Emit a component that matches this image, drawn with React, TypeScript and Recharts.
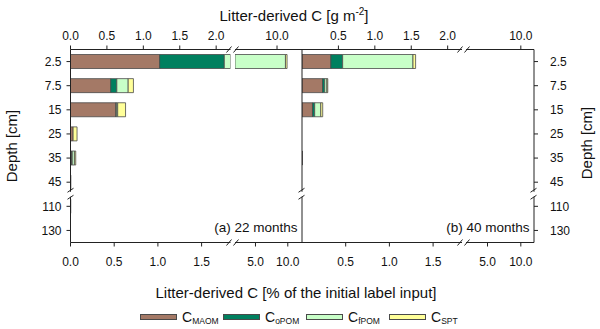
import { BarChart, Bar, XAxis, YAxis } from "recharts"

const depths = ["2.5", "7.5", "15", "25", "35", "45", "110", "130"]

// (a) 22 months — % of the initial label input
const maomA = [1.02, 0.46, 0.52, 0.03, 0.015, 0.004, 0.003, 0]
const opomA = [0.74, 0.07, 0.005, 0, 0.005, 0, 0, 0]
const fpomA = [7.88, 0.13, 0.015, 0, 0.025, 0, 0, 0]
const sptA = [0.25, 0.06, 0.09, 0.045, 0.015, 0, 0, 0]

// (b) 40 months
const maomB = [0.33, 0.235, 0.12, 0, 0.004, 0, 0, 0]
const opomB = [0.135, 0.025, 0.025, 0, 0, 0, 0, 0]
const fpomB = [0.805, 0.025, 0.07, 0, 0, 0, 0, 0]
const sptB = [0.03, 0.01, 0.022, 0, 0, 0, 0, 0]

// tick labels
const pctTicksLow = [0, 0.5, 1.0, 1.5]
const pctTicksHigh = [5, 10]
const gTicksLow = [0, 0.5, 1.0, 1.5, 2.0]
const gTicksHigh = [10]

const SERIES = [
  { key: "maom", sub: "MAOM", color: "#a47966" },
  { key: "opom", sub: "oPOM", color: "#00805f" },
  { key: "fpom", sub: "fPOM", color: "#c8ffc8" },
  { key: "spt", sub: "SPT", color: "#ffff99" },
]

const makeRows = (m: number[], o: number[], f: number[], s: number[]) =>
  depths.map((d, i) => ({ depth: d, maom: m[i], opom: o[i], fpom: f[i], spt: s[i] }))

const rowsA = makeRows(maomA, opomA, fpomA, sptA)
const rowsB = makeRows(maomB, opomB, fpomB, sptB)

const FONT = '"Liberation Sans", Arial, sans-serif'
const INK = "#222"
const TOP_H = 49
const PLOT_TOP = 49.5
const PLOT_H = 193
const BOT_H = 30
const CHART_H = 273

type YMode = "left" | "right" | "line" | "none"

function Segment(props: {
  rows: any[]; plotLeft: number; plotWidth: number; domain: [number, number]
  bottomTicks: number[]; topTicks: number[]; gPerPct: number; yMode: YMode
}) {
  const { rows, plotLeft, plotWidth, domain, bottomTicks, topTicks, gPerPct, yMode } = props
  const yW = yMode === "left" ? 70 : yMode === "right" ? 45 : yMode === "line" ? 2 : 0
  const onLeft = yMode === "left" || yMode === "line"
  const padL = yMode === "left" ? 0.5 : 15
  const padR = yMode === "right" ? 0 : 15
  const left = plotLeft - padL - (onLeft ? yW : 0)
  const width = padL + plotWidth + yW + padR
  const tick = { fontSize: 12, fill: "#111" }

  return (
    <div style={{ position: "absolute", left, top: 0 }}>
      <BarChart width={width} height={CHART_H} data={rows} layout="vertical" barSize={14}
        margin={{ top: 0.5, right: padR, bottom: 0.5, left: padL }}>
        <XAxis xAxisId="b" type="number" orientation="bottom" domain={domain} allowDataOverflow
          ticks={bottomTicks} interval={0} height={BOT_H} tickSize={4} tickMargin={11}
          tickFormatter={(v: number) => v.toFixed(1)} tick={tick}
          axisLine={{ stroke: INK }} tickLine={{ stroke: INK }} />
        <XAxis xAxisId="t" type="number" orientation="top" domain={domain} allowDataOverflow
          ticks={topTicks} interval={0} height={TOP_H} tickSize={4} tickMargin={6}
          tickFormatter={(v: number) => (v * gPerPct).toFixed(1)} tick={tick}
          axisLine={{ stroke: INK }} tickLine={{ stroke: INK }} />
        {yMode === "none" ? (
          <YAxis type="category" dataKey="depth" hide />
        ) : yMode === "line" ? (
          <YAxis type="category" dataKey="depth" width={yW} tick={false} tickLine={false}
            axisLine={{ stroke: INK }} />
        ) : (
          <YAxis type="category" dataKey="depth" orientation={yMode} width={yW}
            tickSize={4} tickMargin={yMode === "left" ? 5 : 12} tick={tick} interval={0}
            axisLine={{ stroke: INK }} tickLine={{ stroke: INK }} />
        )}
        {SERIES.map(s => (
          <Bar key={s.key} dataKey={s.key} stackId="c" xAxisId="b" fill={s.color}
            stroke="#4a4a4a" strokeWidth={0.8} isAnimationActive={false} />
        ))}
      </BarChart>
    </div>
  )
}

// x positions of the panels (low segment | break | high segment)
const LOW_W = 160
const GAP = 4
const PANELS = [
  { rows: rowsA, x0: 70.5, highW: 67, high: [1.83, 12.2] as [number, number], gHigh: 1.2, showZero: true,
    label: "(a) 22 months" },
  { rows: rowsB, x0: 301.5, highW: 68, high: [1.77, 11.98] as [number, number], gHigh: 1.0, showZero: false,
    label: "(b) 40 months" },
]
const G_PER_PCT = 1.2

function XBreak({ x, y }: { x: number; y: number }) {
  return (
    <g stroke={INK} strokeWidth={1}>
      <line x1={x - 6} y1={y + 3} x2={x - 1} y2={y - 3} />
      <line x1={x + 1} y1={y + 3} x2={x + 6} y2={y - 3} />
    </g>
  )
}

function YBreak({ x, y }: { x: number; y: number }) {
  return (
    <g>
      <rect x={x - 2} y={y - 2.5} width={4} height={5} fill="#fff" />
      <g stroke={INK} strokeWidth={1}>
        <line x1={x - 3} y1={y - 2} x2={x + 3} y2={y - 6} />
        <line x1={x - 3} y1={y + 5} x2={x + 3} y2={y + 1} />
      </g>
    </g>
  )
}

export default function App() {
  const plotBottom = PLOT_TOP + PLOT_H
  const yBreak = PLOT_TOP + (PLOT_H / depths.length) * 6
  const rightEdge = PANELS[1].x0 + LOW_W + GAP + PANELS[1].highW

  return (
    <div style={{ position: "absolute", left: 0, top: 0, width: 600, height: 329, overflow: "hidden",
      background: "#fff", fontFamily: FONT, color: "#111" }}>
      {PANELS.map((p, i) => (
        <div key={i}>
          <Segment rows={p.rows} plotLeft={p.x0} plotWidth={LOW_W} domain={[0, LOW_W / 87.4]}
            bottomTicks={p.showZero ? pctTicksLow : pctTicksLow.slice(1)}
            topTicks={(p.showZero ? gTicksLow : gTicksLow.slice(1)).map(g => g / G_PER_PCT)}
            gPerPct={G_PER_PCT} yMode={i === 0 ? "left" : "line"} />
          <Segment rows={p.rows} plotLeft={p.x0 + LOW_W + GAP} plotWidth={p.highW} domain={p.high}
            bottomTicks={pctTicksHigh} topTicks={gTicksHigh.map(g => g / p.gHigh)}
            gPerPct={p.gHigh} yMode={i === 0 ? "none" : "right"} />
        </div>
      ))}

      <svg width={600} height={329} style={{ position: "absolute", left: 0, top: 0, pointerEvents: "none" }}
        fontFamily={FONT}>
        {PANELS.map((p, i) => (
          <g key={i}>
            <XBreak x={p.x0 + LOW_W + GAP / 2} y={PLOT_TOP} />
            <XBreak x={p.x0 + LOW_W + GAP / 2} y={plotBottom} />
            <YBreak x={p.x0} y={yBreak} />
            <text x={p.x0 + LOW_W + GAP + p.highW - 4} y={232} textAnchor="end" fontSize={13.5} fill="#111">
              {p.label}
            </text>
          </g>
        ))}
        <YBreak x={rightEdge} y={yBreak} />

        <text x={294} y={21} textAnchor="middle" fontSize={15} fill="#111">
          Litter-derived C [g m<tspan dy={-6} fontSize={10}>-2</tspan><tspan dy={6}>]</tspan>
        </text>
        <text x={296} y={298} textAnchor="middle" fontSize={15} fill="#111">
          Litter-derived C [% of the initial label input]
        </text>
        <text transform="translate(17,146) rotate(-90)" textAnchor="middle" fontSize={15} fill="#111">
          Depth [cm]
        </text>
        <text transform="translate(592,143) rotate(-90)" textAnchor="middle" fontSize={15} fill="#111">
          Depth [cm]
        </text>
      </svg>

      {SERIES.map((s, i) => (
        <div key={s.key} style={{ position: "absolute", left: 140 + i * 83, top: 309, display: "flex",
          alignItems: "center", whiteSpace: "nowrap" }}>
          <span style={{ display: "inline-block", width: 35, height: 4, background: s.color,
            border: "1px solid #4a4a4a", marginRight: 5 }} />
          <span style={{ fontSize: 14 }}>C</span>
          <span style={{ fontSize: 8.5, position: "relative", top: 4 }}>{s.sub}</span>
        </div>
      ))}
    </div>
  )
}
